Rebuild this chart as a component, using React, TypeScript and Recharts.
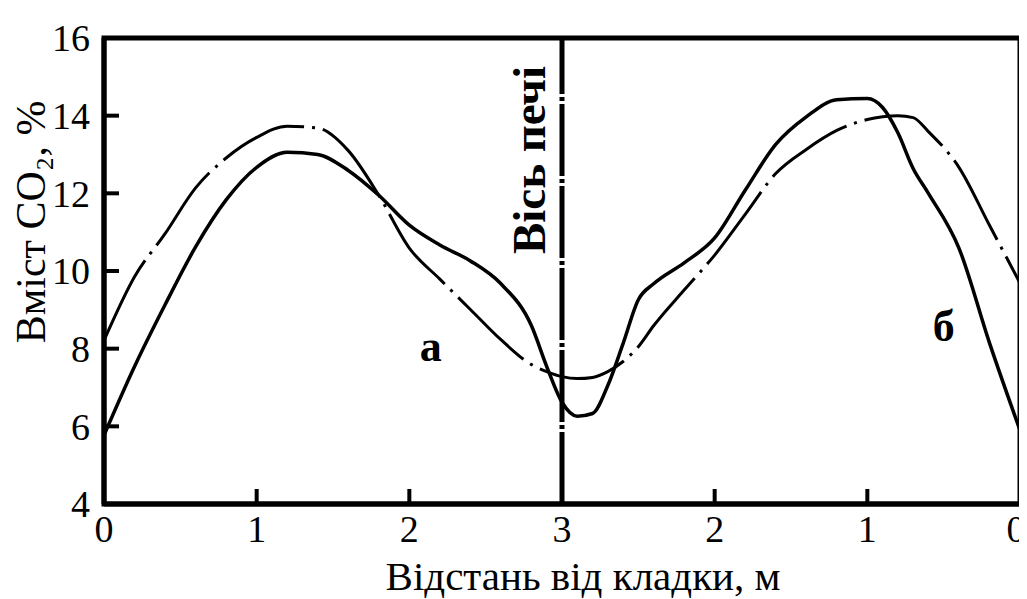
import React from "react";
import {
  Label,
  Line,
  LineChart,
  ReferenceArea,
  ReferenceDot,
  ReferenceLine,
  XAxis,
  YAxis,
} from "recharts";

// position along the furnace width (0..6), shown as distance from the masonry
const position = [
  0, 0.2, 0.4, 0.6, 0.8, 1.0, 1.2, 1.4, 1.6, 1.8, 2.0, 2.2, 2.4, 2.6, 2.8, 2.9,
  3.0, 3.1, 3.2, 3.3, 3.4, 3.5, 3.6, 3.8, 4.0, 4.2, 4.4, 4.6, 4.8, 5.0, 5.1, 5.2,
  5.3, 5.4, 5.6, 5.8, 6.0,
];

// CO2 content, %, solid curve
const solid = [
  5.77, 7.54, 9.13, 10.62, 11.83, 12.67, 13.06, 13.0, 12.59, 11.95, 11.18, 10.67,
  10.26, 9.67, 8.59, 7.54, 6.62, 6.26, 6.33, 7.05, 8.13, 9.26, 9.67, 10.21, 10.85,
  12.08, 13.26, 13.97, 14.41, 14.44, 14.21, 13.56, 12.64, 12.0, 10.59, 8.15, 5.9,
];

// CO2 content, %, dash-dot curve
const dashDot = [
  8.21, 9.85, 10.96, 12.14, 12.91, 13.44, 13.73, 13.68, 13.1, 11.95, 10.59, 9.79,
  9.01, 8.23, 7.59, 7.41, 7.28, 7.23, 7.26, 7.41, 7.67, 8.05, 8.59, 9.51, 10.41,
  11.46, 12.51, 13.13, 13.62, 13.9, 13.97, 14.0, 13.95, 13.59, 12.67, 11.18, 9.69,
];

const xTicks = [0, 1, 2, 3, 4, 5, 6];
const xTickLabels = ["0", "1", "2", "3", "2", "1", "0"];
const yTicks = [4, 6, 8, 10, 12, 14, 16];

const curveLabels = [
  { x: 2.14, y: 8.09, text: "а" },
  { x: 5.5, y: 8.61, text: "б" },
];

const data = position.map((x, i) => ({ x, solid: solid[i], dashDot: dashDot[i] }));

const FONT = "'Liberation Serif', 'Times New Roman', serif";

function XTick(props: any) {
  const { x, y, payload } = props;
  const i = xTicks.indexOf(payload.value);
  // keep the last label inside the page edge
  const dx = i === xTicks.length - 1 ? -4 : 0;
  return (
    <text
      x={x + dx}
      y={y}
      dy="0.71em"
      textAnchor="middle"
      fontFamily={FONT}
      fontSize={38}
      fill="#000"
    >
      {xTickLabels[i]}
    </text>
  );
}

function XTitle(props: any) {
  const vb = props.viewBox;
  return (
    <text
      x={vb.x + vb.width / 2 + 21}
      y={vb.y + 86}
      textAnchor="middle"
      fontFamily={FONT}
      fontSize={41}
      fill="#000"
    >
      Відстань від кладки, м
    </text>
  );
}

function YTitle(props: any) {
  const vb = props.viewBox;
  return (
    <g transform={`translate(${vb.x + 37}, 214) rotate(-90)`}>
      <text x={0} y={0} textAnchor="middle" fontFamily={FONT} fontSize={42} fill="#000">
        Вміст CO₂, %
      </text>
    </g>
  );
}

function AxisTitle(props: any) {
  const vb = props.viewBox;
  return (
    <g transform={`translate(${vb.x - 17}, ${vb.y + 122}) rotate(-90)`}>
      <text
        x={0}
        y={0}
        textAnchor="middle"
        fontFamily={FONT}
        fontSize={47}
        fontWeight="bold"
        fill="#000"
      >
        Вісь печі
      </text>
    </g>
  );
}

export default function App() {
  return (
    <div style={{ width: 1019, height: 591, background: "#fff" }}>
      <LineChart
        width={1019}
        height={591}
        data={data}
        margin={{ top: 30, right: 7, bottom: 65, left: 0 }}
      >
        <XAxis
          dataKey="x"
          type="number"
          domain={[0, 6]}
          ticks={xTicks}
          interval={0}
          tickSize={-15}
          tickMargin={26}
          height={30}
          axisLine={{ stroke: "#000", strokeWidth: 5 }}
          tickLine={{ stroke: "#000", strokeWidth: 4 }}
          tick={XTick}
        >
          <Label content={XTitle} />
        </XAxis>
        <YAxis
          type="number"
          domain={[4, 16]}
          ticks={yTicks}
          interval={0}
          width={96}
          tickSize={-15}
          tickMargin={29}
          axisLine={{ stroke: "#000", strokeWidth: 5 }}
          tickLine={{ stroke: "#000", strokeWidth: 4 }}
          tick={{ fill: "#000", fontSize: 38, fontFamily: FONT }}
        >
          <Label content={YTitle} />
        </YAxis>
        <ReferenceArea
          x1={0}
          x2={6}
          y1={4}
          y2={16}
          fill="none"
          stroke="#000"
          strokeWidth={5}
          ifOverflow="visible"
        />
        <ReferenceLine
          x={3}
          stroke="#000"
          strokeWidth={5}
          strokeDasharray="72 3 4 3"
          label={AxisTitle}
        />
        <Line
          dataKey="dashDot"
          type="monotone"
          stroke="#000"
          strokeWidth={3}
          strokeDasharray="90 8 3 8"
          dot={false}
          isAnimationActive={false}
        />
        <Line
          dataKey="solid"
          type="monotone"
          stroke="#000"
          strokeWidth={3.5}
          dot={false}
          isAnimationActive={false}
        />
        {curveLabels.map((l) => (
          <ReferenceDot
            key={l.text}
            x={l.x}
            y={l.y}
            r={0}
            fill="none"
            stroke="none"
            label={{
              value: l.text,
              position: "center",
              fontSize: 44,
              fontWeight: "bold",
              fill: "#000",
              fontFamily: FONT,
            }}
          />
        ))}
      </LineChart>
    </div>
  );
}
